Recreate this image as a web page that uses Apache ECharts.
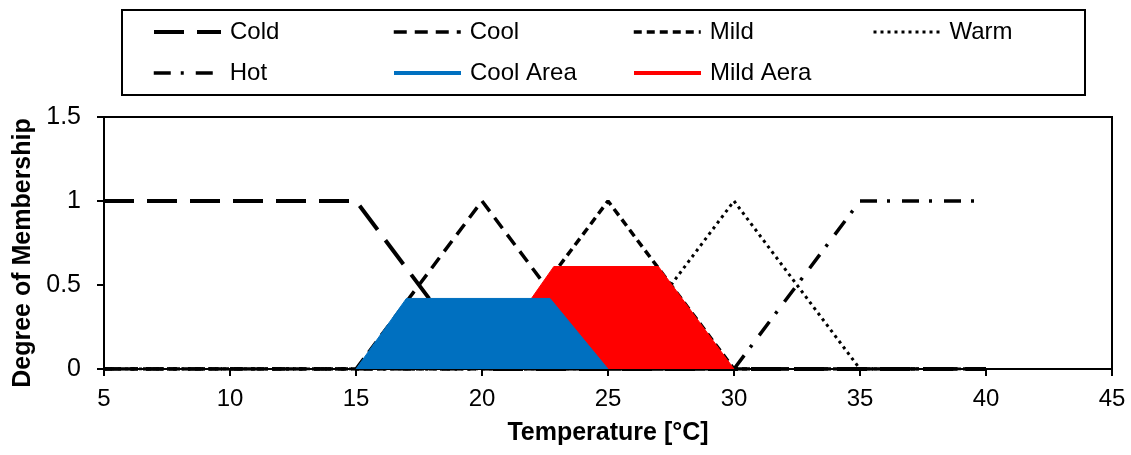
<!DOCTYPE html>
<html>
<head>
<meta charset="utf-8">
<script src="https://cdn.jsdelivr.net/npm/echarts@6/dist/echarts.min.js"></script>
<style>
  html, body { margin: 0; padding: 0; background: #fff; }
  #chart-panel { width: 1131px; height: 455px; }
</style>
</head>
<body>
<div id="chart-panel"></div>
<script>
// membership functions, [temperature, degree]
const cold = [[5, 1], [15, 1], [20, 0], [40, 0]];
const cool = [[5, 0], [15, 0], [20, 1], [25, 0], [40, 0]];
const mild = [[5, 0], [20, 0], [25, 1], [30, 0], [40, 0]];
const warm = [[5, 0], [25, 0], [30, 1], [35, 0], [40, 0]];
const hot = [[5, 0], [30, 0], [35, 1], [40, 1]];
// clipped areas
const coolArea = [[15, 0], [17, 0.42], [22.7, 0.42], [25, 0]];
const mildArea = [[20, 0], [22.85, 0.61], [27, 0.61], [30, 0]];

const names = ["Cold", "Cool", "Mild", "Warm", "Hot", "Cool Area", "Mild Aera"];
// legend slots (column x, row y)
const legendPos = [[152, 20], [392, 20], [632, 20], [872, 20], [152, 61], [392, 61], [632, 61]];
const legendWidth = [4, 3.5, 3.5, 3, 3.5, 4, 4];

let chartPanel = echarts.init(document.getElementById("chart-panel"));

function lineSeries(name, data, width, dash) {
  return {
    name: name,
    type: "line",
    data: data,
    symbol: "none",
    z: 2,
    itemStyle: { color: "#000" },
    lineStyle: { color: "#000", width: width, type: dash },
  };
}

let legends = names.map((n, i) => ({
  data: [n],
  left: legendPos[i][0],
  top: legendPos[i][1],
  padding: 0,
  itemWidth: 67,
  itemHeight: 14,
  itemStyle: { opacity: 0 },
  lineStyle: { width: legendWidth[i] },
  textStyle: {
    fontFamily: "Liberation Sans",
    fontSize: 24,
    color: "#000",
    lineHeight: 24,
    padding: [0, 0, 0, 4],
  },
}));

let option = {
  animation: false,
  legend: legends,
  graphic: [
    {
      type: "rect",
      shape: { x: 122, y: 10, width: 963, height: 85 },
      style: { fill: "none", stroke: "#000", lineWidth: 2 },
      z: -1,
    },
  ],
  grid: {
    left: 104,
    right: 19,
    top: 117,
    bottom: 86,
    show: true,
    borderColor: "#000",
    borderWidth: 2,
  },
  xAxis: {
    type: "value",
    min: 5,
    max: 45,
    interval: 5,
    name: "Temperature [°C]",
    nameLocation: "middle",
    nameGap: 52,
    nameTextStyle: { fontFamily: "Liberation Sans", fontSize: 25, fontWeight: "bold", color: "#000" },
    axisLine: { show: true, lineStyle: { color: "#000", width: 2 } },
    axisTick: { show: true, length: 7, lineStyle: { color: "#000", width: 2 } },
    axisLabel: { fontFamily: "Liberation Sans", fontSize: 24, color: "#000", margin: 18 },
    splitLine: { show: false },
  },
  yAxis: {
    type: "value",
    min: 0,
    max: 1.5,
    interval: 0.5,
    name: "Degree of Membership",
    nameLocation: "middle",
    nameGap: 67,
    nameTextStyle: {
      fontFamily: "Liberation Sans",
      fontSize: 25,
      fontWeight: "bold",
      color: "#000",
      padding: [0, 20, 0, 0],
    },
    axisLine: { show: true, lineStyle: { color: "#000", width: 2 } },
    axisTick: { show: true, length: 7, lineStyle: { color: "#000", width: 2 } },
    axisLabel: { fontFamily: "Liberation Sans", fontSize: 25, color: "#000", margin: 23 },
    splitLine: { show: false },
  },
  series: [
    lineSeries("Cold", cold, 4, [30, 13]),
    lineSeries("Cool", cool, 3.5, [13, 8]),
    lineSeries("Mild", mild, 3.5, [8, 5]),
    lineSeries("Warm", warm, 3, [3, 4]),
    lineSeries("Hot", hot, 3.5, [17, 10, 3, 12]),
    {
      name: "Mild Aera",
      type: "line",
      data: mildArea,
      symbol: "none",
      z: 3,
      lineStyle: { color: "#ff0000", width: 1 },
      itemStyle: { color: "#ff0000" },
      areaStyle: { color: "#ff0000", opacity: 1 },
    },
    {
      name: "Cool Area",
      type: "line",
      data: coolArea,
      symbol: "none",
      z: 4,
      lineStyle: { color: "#0070c0", width: 1 },
      itemStyle: { color: "#0070c0" },
      areaStyle: { color: "#0070c0", opacity: 1 },
    },
  ],
};
chartPanel.setOption(option);
</script>
</body>
</html>
